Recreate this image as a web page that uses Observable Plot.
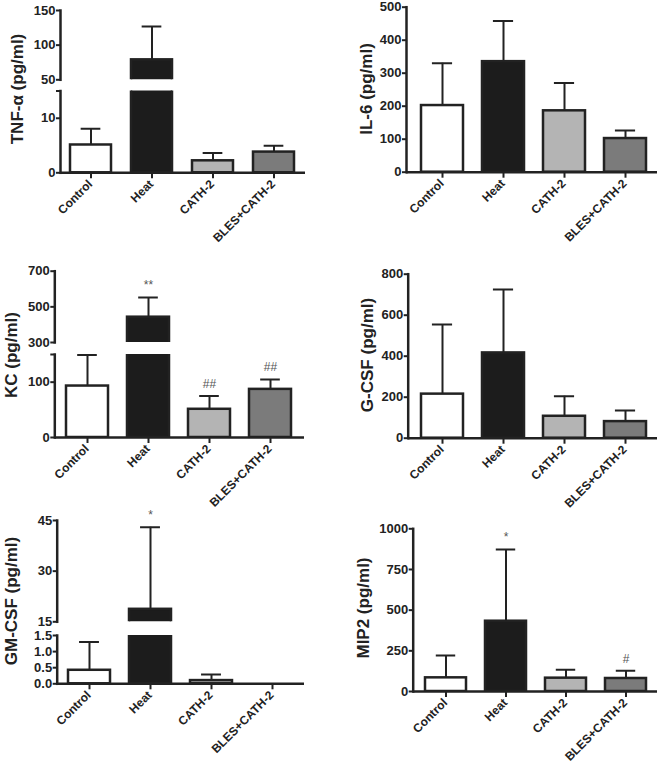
<!DOCTYPE html>
<html><head><meta charset="utf-8">
<script src="https://cdn.jsdelivr.net/npm/d3@7"></script>
<script src="https://cdn.jsdelivr.net/npm/@observablehq/plot@0.6"></script>
<style>
body{margin:0;background:#fff;}
#root{position:relative;width:660px;height:776px;overflow:hidden;font-family:"Liberation Sans",Arial,sans-serif;background:#fff;}
.ylab{position:absolute;font-weight:bold;font-size:17px;white-space:nowrap;transform:translate(-50%,-50%) rotate(-90deg);color:#222;line-height:1;}
</style></head><body><div id="root"></div><script>
// ---- data ----
const groups = ["Control", "Heat", "CATH-2", "BLES+CATH-2"];
const groupColors = ["#ffffff", "#1c1c1c", "#b4b4b4", "#7b7b7b"];

const tnfMean = [5.1, 78.8, 2.2, 3.8];
const tnfSD = [3.0, 48, 1.45, 1.15];
const il6Mean = [202, 335, 186, 102];
const il6SD = [128, 123, 84, 24];
const kcMean = [93, 442, 51, 87];
const kcSD = [56, 110, 24, 18];
const kcNotes = ["", "**", "##", "##"];
const gcsfMean = [215, 416, 107, 81];
const gcsfSD = [340, 309, 98, 54];
const gmcsfMean = [0.42, 18.7, 0.1, 0];
const gmcsfSD = [0.88, 24.3, 0.19, 0];
const gmcsfNotes = ["", "*", "", ""];
const mip2Mean = [84, 432, 82, 80];
const mip2SD = [137, 441, 51, 48];
const mip2Notes = ["", "*", "", "#"];

const tnfTicksLow = [0, 10, 15], tnfLabelsLow = [0, 10];
const tnfTicksHigh = [50, 100, 150];
const il6Ticks = [0, 100, 200, 300, 400, 500];
const kcTicksLow = [0, 100, 150], kcLabelsLow = [0, 100];
const kcTicksHigh = [300, 500, 700];
const gcsfTicks = [0, 200, 400, 600, 800];
const gmcsfTicksLow = [0, 0.5, 1.0, 1.5];
const gmcsfTicksHigh = [15, 30, 45];
const mip2Ticks = [0, 250, 500, 750, 1000];

// ---- helpers ----
const root = document.getElementById("root");
const INK = "#222";
const FONT = "'Liberation Sans', Arial, sans-serif";

function rows(mean, sd, notes) {
  return groups.map((g, i) => ({group: g, mean: mean[i], sd: sd[i], top: mean[i] + sd[i], note: notes ? notes[i] : ""}));
}

function segment(cfg) {
  const {data, domain, ticks, labelled, fmt, box, frameX, frameY, centers, barW, bottom} = cfg;
  const [L, T, R, B] = box;
  const step = (centers[1] - centers[0]) / (groups.length - 1);
  const pi = 1 - barW / step;
  const withErr = data.filter(d => d.sd > 0);
  const notes = data.filter(d => d.note && d.top >= domain[0] && d.top <= domain[1]);
  const lab = labelled || ticks;
  const marks = [
    Plot.barY(data, {x: "group", y: "mean", fill: "group", stroke: INK, strokeWidth: 2.5, clip: true}),
    Plot.ruleX(withErr, {x: "group", y1: "mean", y2: "top", stroke: INK, strokeWidth: 2, clip: true}),
    Plot.tickY(withErr, {x: "group", y: "top", stroke: INK, strokeWidth: 2, insetLeft: barW * 0.26, insetRight: barW * 0.26, clip: true}),
    Plot.text(notes, {x: "group", y: "top", text: "note", dy: -12, fontSize: 12, fill: "#555", fontFamily: FONT}),
    Plot.axisY({ticks, tickSize: 4, tickPadding: 1, stroke: INK, strokeWidth: 2, fill: INK, fontSize: 13, fontWeight: "bold", fontFamily: FONT, label: null,
      tickFormat: d => lab.includes(d) ? (fmt ? fmt(d) : String(d)) : ""}),
    Plot.frame({anchor: "left", stroke: INK, strokeWidth: 2.5})
  ];
  if (bottom) {
    marks.push(
      Plot.ruleY([domain[0]], {stroke: INK, strokeWidth: 2.5}),
      Plot.axisX({tickSize: 6, stroke: INK, strokeWidth: 2, label: null, tickFormat: () => ""}),
      Plot.text(groups, {x: d => d, frameAnchor: "bottom", rotate: -45, textAnchor: "end", dx: 2, dy: 12,
        fontSize: 12, fontWeight: "bold", fontFamily: FONT, fill: INK})
    );
  }
  const svg = Plot.plot({
    width: R - L, height: B - T,
    marginLeft: frameX[0] - L, marginRight: R - frameX[1],
    marginTop: frameY[1] - T, marginBottom: B - frameY[0],
    x: {type: "band", domain: groups, range: [centers[0] - step / 2 - L, centers[1] + step / 2 - L], paddingInner: pi, paddingOuter: pi / 2, axis: null},
    y: {domain, axis: null},
    color: {domain: groups, range: groupColors},
    style: {background: "transparent", overflow: "visible", fontFamily: FONT, color: INK},
    marks
  });
  svg.style.position = "absolute";
  svg.style.left = L + "px";
  svg.style.top = T + "px";
  root.appendChild(svg);
}

function ytitle(html, cx, cy) {
  const d = document.createElement("div");
  d.className = "ylab";
  d.innerHTML = html;
  d.style.left = cx + "px";
  d.style.top = cy + "px";
  root.appendChild(d);
}

// ---- Panel A: TNF-alpha (broken axis) ----
const tnf = rows(tnfMean, tnfSD);
segment({data: tnf, domain: [50, 150], ticks: tnfTicksHigh, box: [0, 0, 330, 85], frameX: [60, 305], frameY: [79.3, 10], centers: [90.5, 273.5], barW: 41});
segment({data: tnf, domain: [0, 15], ticks: tnfTicksLow, labelled: tnfLabelsLow, box: [0, 85, 330, 258], frameX: [60, 305], frameY: [172.3, 90.5], centers: [90.5, 273.5], barW: 41, bottom: true});
ytitle("TNF-α (pg/ml)", 17, 89);

// ---- Panel B: IL-6 ----
const il6 = rows(il6Mean, il6SD);
segment({data: il6, domain: [0, 500], ticks: il6Ticks, box: [330, 0, 660, 258], frameX: [406, 657], frameY: [171.7, 6.7], centers: [441.5, 625.8], barW: 42, bottom: true});
ytitle("IL-6 (pg/ml)", 366, 89);

// ---- Panel C: KC (broken axis) ----
const kc = rows(kcMean, kcSD, kcNotes);
segment({data: kc, domain: [300, 700], ticks: kcTicksHigh, box: [0, 258, 330, 348], frameX: [54.3, 304], frameY: [342, 270.7], centers: [85.5, 271.3], barW: 43});
segment({data: kc, domain: [0, 150], ticks: kcTicksLow, labelled: kcLabelsLow, box: [0, 348, 330, 510], frameX: [54.3, 304], frameY: [437, 354], centers: [85.5, 271.3], barW: 43, bottom: true});
ytitle("KC (pg/ml)", 11, 355);

// ---- Panel D: G-CSF ----
const gcsf = rows(gcsfMean, gcsfSD);
segment({data: gcsf, domain: [0, 800], ticks: gcsfTicks, box: [330, 258, 660, 510], frameX: [407.7, 657], frameY: [437.7, 273.7], centers: [441.3, 626], barW: 42, bottom: true});
ytitle("G-CSF (pg/ml)", 367, 355);

// ---- Panel E: GM-CSF (broken axis) ----
const gmcsf = rows(gmcsfMean, gmcsfSD, gmcsfNotes);
segment({data: gmcsf, domain: [15, 45], ticks: gmcsfTicksHigh, box: [0, 510, 330, 628], frameX: [56.7, 304], frameY: [621.3, 520], centers: [88.8, 272.8], barW: 42.5});
segment({data: gmcsf, domain: [0, 1.5], ticks: gmcsfTicksLow, fmt: d3.format(".1f"), box: [0, 628, 330, 776], frameX: [56.7, 304], frameY: [683.3, 635], centers: [88.8, 272.8], barW: 42.5, bottom: true});
ytitle("GM-CSF (pg/ml)", 11, 601);

// ---- Panel F: MIP2 ----
const mip2 = rows(mip2Mean, mip2SD, mip2Notes);
segment({data: mip2, domain: [0, 1000], ticks: mip2Ticks, box: [330, 510, 660, 776], frameX: [412.7, 657], frameY: [691, 528.3], centers: [443.7, 626.3], barW: 41.5, bottom: true});
ytitle("MIP2 (pg/ml)", 363, 608);
</script></body></html>
